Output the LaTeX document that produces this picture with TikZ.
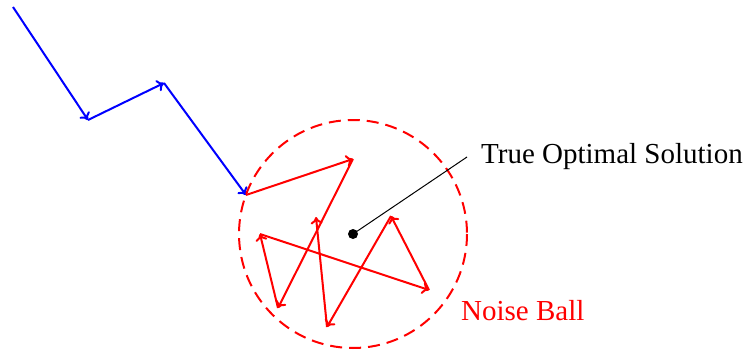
\documentclass[tikz,border=0pt]{standalone}
\usepackage{fontspec}
\setmainfont{Liberation Serif}
\usetikzlibrary{calc, positioning, arrows.meta}

\begin{document}
\begin{tikzpicture}[x=1pt,y=-1pt]
  \definecolor{descent}{RGB}{0,0,255}
  \definecolor{noise}{RGB}{255,0,0}
  \def\ballradius{114}
  \tikzset{
    iterstep/.style={-{Computer Modern Rightarrow[length=7pt, width=12pt]}, line width=2pt},
    labeltext/.style={font=\fontsize{29}{34}\selectfont, inner sep=0pt}
  }
  \useasboundingbox (0,0) rectangle (749,353);
  % far from the optimum: plain descent
  \coordinate (b0) at (13,7);
  \coordinate (b1) at (88,120);
  \coordinate (b2) at (164,83);
  \coordinate (b3) at (246,195);
  \foreach \from/\to in {b0/b1, b1/b2, b2/b3}
    \draw[iterstep, descent] (\from) -- (\to);
  % inside the ball: noisy steps
  \coordinate (r1) at (353,159);
  \coordinate (r2) at (278,308);
  \coordinate (r3) at (260,234);
  \coordinate (r4) at (429,290);
  \coordinate (r5) at (391,216);
  \coordinate (r6) at (327,327);
  \coordinate (r7) at (316,217);
  \foreach \from/\to in {b3/r1, r1/r2, r2/r3, r3/r4, r4/r5, r5/r6, r6/r7}
    \draw[iterstep, noise] (\from) -- (\to);
  \node[circle, fill=black, inner sep=0pt, minimum size=10pt] (opt) at (353,234) {};
  \draw[noise, line width=2pt, dash pattern=on 12pt off 7pt] (opt) circle (\ballradius);
  \node[labeltext, anchor=west] (optlabel) at (481,157) {True Optimal Solution};
  \draw[line width=1pt] (opt.center) -- ($(optlabel.west)+(-14,0)$);
  \node[labeltext, anchor=west, text=noise] (balllabel) at (461,311) {Noise Ball};
\end{tikzpicture}
\end{document}
